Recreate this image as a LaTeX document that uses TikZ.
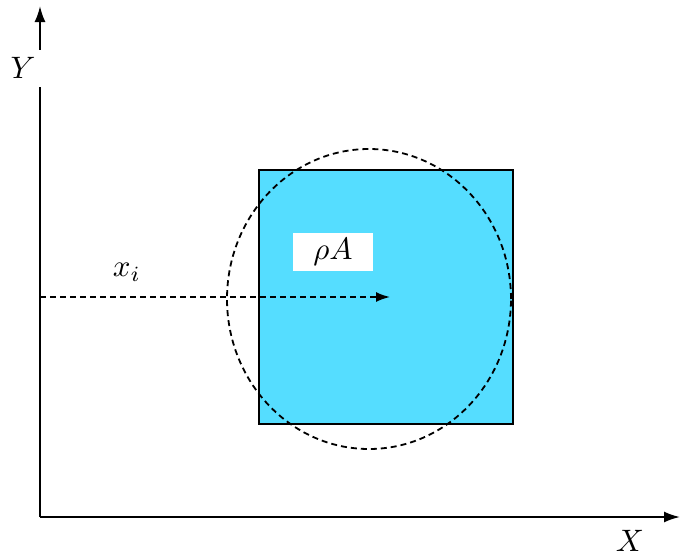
\documentclass[tikz,border=0pt]{standalone}
\usetikzlibrary{arrows.meta,shapes.geometric}
\definecolor{sqfill}{RGB}{85,221,255}
\newcommand{\mylbltext}[1]{\scalebox{3.1}{$#1$}}
\begin{document}
\begin{tikzpicture}[x=1pt,y=-1pt,
  axis/.style={line width=2pt,-{Latex[length=16pt,width=11pt]}},
  dashline/.style={line width=1.8pt,dash pattern=on 6pt off 4pt},
  lbl/.style={inner sep=0pt}]
\useasboundingbox (0,0) rectangle (680,557);
\coordinate (O) at (40,517);
\coordinate (Ytip) at (40,6);
\coordinate (Xtip) at (680,517);
\draw[axis] (O) -- (Ytip);
\draw[axis] (O) -- (Xtip);
\node[lbl,fill=white,minimum width=40pt,minimum height=37pt] (Y) at (23,68) {\mylbltext{Y}};
\node[lbl] (X) at (630,541) {\mylbltext{X}};
\node[draw,line width=1.8pt,fill=sqfill,minimum width=254pt,minimum height=254pt,inner sep=0pt] (sq) at (386,297) {};
\node[draw,dashline,ellipse,minimum width=284pt,minimum height=300pt,inner sep=0pt] (circ) at (369,299) {};
\node[lbl,fill=white,minimum width=80pt,minimum height=38pt] (rho) at (333,252) {\mylbltext{\rho A}};
\coordinate (start) at (40,297);
\coordinate (end) at (390,297);
\draw[dashline,-{Latex[length=14pt,width=10pt]}] (start) -- (end);
\node[lbl] (xi) at (127,272) {\mylbltext{x_i}};
\end{tikzpicture}
\end{document}
